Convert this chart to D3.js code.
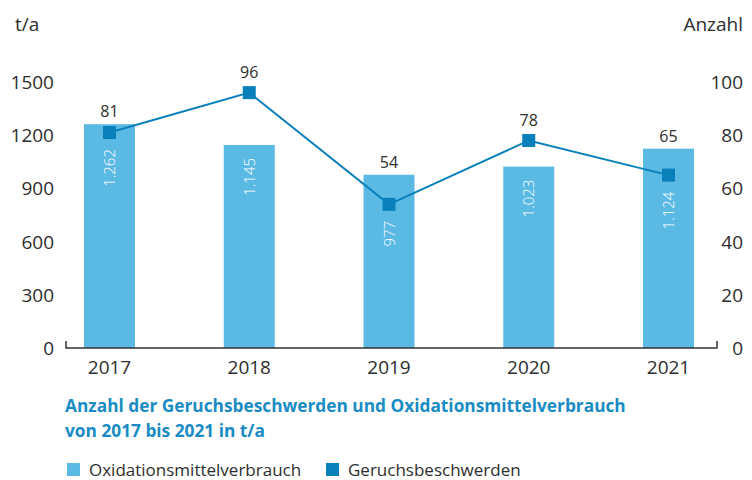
<!DOCTYPE html>
<html>
<head>
<meta charset="utf-8">
<script src="https://cdn.jsdelivr.net/npm/d3@7"></script>
<style>
  body { margin: 0; background: #fff; }
  svg text { font-family: "Open Sans", "Noto Sans", sans-serif; }
</style>
</head>
<body>
<svg id="chart" width="752" height="480"></svg>
<script>
var years = ['2017', '2018', '2019', '2020', '2021'];
var verbrauch = [1262, 1145, 977, 1023, 1124];      // t/a
var beschwerden = [81, 96, 54, 78, 65];             // Anzahl
var leftTicks = [0, 300, 600, 900, 1200, 1500];
var rightTicks = [0, 20, 40, 60, 80, 100];

var barColor = '#5bbae4';
var lineColor = '#0a80bb';
var textColor = '#2e2e2e';

var svg = d3.select('#chart');

// x - years
var x = d3.scalePoint()
    .domain(years)
    .range([109.5, 668.5]);
var barWidth = 51;

// y - t/a links, Anzahl rechts
var yL = d3.scaleLinear().domain([0, 1500]).range([348, 82]);
var yR = d3.scaleLinear().domain([0, 100]).range([348, 82]);

var fmt = d3.formatLocale({ decimal: ',', thousands: '.', grouping: [3], currency: ['', ' €'] }).format(',d');

var data = years.map(function(y, i) {
  return { year: y, t: verbrauch[i], n: beschwerden[i] };
});

// bars
svg.selectAll('rect.bar')
    .data(data)
  .enter().append('rect')
    .attr('class', 'bar')
    .attr('x', function(d) { return x(d.year) - barWidth / 2; })
    .attr('y', function(d) { return yL(d.t); })
    .attr('width', barWidth)
    .attr('height', function(d) { return yL(0) - yL(d.t); })
    .attr('fill', barColor);

// left axis labels
svg.append('g').selectAll('text')
    .data(leftTicks)
  .enter().append('text')
    .attr('x', 54)
    .attr('y', function(d) { return yL(d) + 7; })
    .attr('text-anchor', 'end')
    .attr('font-size', 19)
    .attr('fill', textColor)
    .text(function(d) { return d; });

// right axis labels
svg.append('g').selectAll('text')
    .data(rightTicks)
  .enter().append('text')
    .attr('x', 743)
    .attr('y', function(d) { return yR(d) + 7; })
    .attr('text-anchor', 'end')
    .attr('font-size', 19)
    .attr('fill', textColor)
    .text(function(d) { return d; });

svg.append('text')
    .attr('x', 15).attr('y', 31)
    .attr('font-size', 19)
    .attr('fill', textColor)
    .text('t/a');

svg.append('text')
    .attr('x', 743).attr('y', 31)
    .attr('text-anchor', 'end')
    .attr('font-size', 19)
    .attr('fill', textColor)
    .text('Anzahl');

// baseline with end ticks
svg.append('path')
    .attr('d', 'M66,341V348H717V341')
    .attr('fill', 'none')
    .attr('stroke', '#333')
    .attr('stroke-width', 1.5);

// x labels
svg.append('g').selectAll('text')
    .data(years)
  .enter().append('text')
    .attr('x', function(d) { return x(d); })
    .attr('y', 374)
    .attr('text-anchor', 'middle')
    .attr('font-size', 19)
    .attr('fill', textColor)
    .text(function(d) { return d; });

// line
var line = d3.line()
    .x(function(d) { return x(d.year); })
    .y(function(d) { return yR(d.n); });

svg.append('path')
    .datum(data)
    .attr('d', line)
    .attr('fill', 'none')
    .attr('stroke', lineColor)
    .attr('stroke-width', 2);

var m = 13;
svg.selectAll('rect.marker')
    .data(data)
  .enter().append('rect')
    .attr('class', 'marker')
    .attr('x', function(d) { return x(d.year) - m / 2; })
    .attr('y', function(d) { return yR(d.n) - m / 2; })
    .attr('width', m)
    .attr('height', m)
    .attr('fill', lineColor);

// count labels above markers / bars
svg.selectAll('text.count')
    .data(data)
  .enter().append('text')
    .attr('class', 'count')
    .attr('x', function(d) { return x(d.year); })
    .attr('y', function(d) { return Math.min(yR(d.n) - 15, yL(d.t) - 7); })
    .attr('text-anchor', 'middle')
    .attr('font-size', 16)
    .attr('fill', textColor)
    .text(function(d) { return d.n; });

// rotated value labels inside bars
svg.selectAll('text.value')
    .data(data)
  .enter().append('text')
    .attr('class', 'value')
    .attr('transform', function(d) {
      var top = Math.max(yL(d.t) + 13, yR(d.n) + m / 2 + 10);
      return 'translate(' + (x(d.year) + 5.5) + ',' + top + ') rotate(-90)';
    })
    .attr('text-anchor', 'end')
    .attr('font-size', 15)
    .attr('font-weight', 300)
    .attr('fill', '#fff')
    .text(function(d) { return fmt(d.t); });

// title
var title = svg.append('text')
    .attr('x', 65)
    .attr('font-size', 17.3)
    .attr('font-weight', 'bold')
    .attr('fill', '#1a8cc4');
title.append('tspan').attr('x', 65).attr('y', 412)
    .text('Anzahl der Geruchsbeschwerden und Oxidationsmittelverbrauch');
title.append('tspan').attr('x', 65).attr('y', 437)
    .text('von 2017 bis 2021 in t/a');

// legend
var legend = [
  { name: 'Oxidationsmittelverbrauch', color: barColor, x: 67 },
  { name: 'Geruchsbeschwerden', color: lineColor, x: 326 }
];
var lg = svg.selectAll('g.legend')
    .data(legend)
  .enter().append('g')
    .attr('class', 'legend')
    .attr('transform', function(d) { return 'translate(' + d.x + ',463)'; });
lg.append('rect')
    .attr('width', 13).attr('height', 13)
    .attr('fill', function(d) { return d.color; });
lg.append('text')
    .attr('x', 22).attr('y', 13)
    .attr('font-size', 17)
    .attr('fill', textColor)
    .text(function(d) { return d.name; });
</script>
</body>
</html>
